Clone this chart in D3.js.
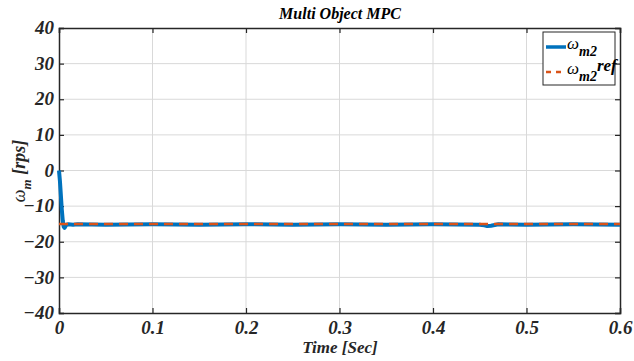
<!DOCTYPE html>
<html><head><meta charset="utf-8">
<script src="https://cdn.jsdelivr.net/npm/d3@7"></script>
<style>body{margin:0;background:#fff}svg{display:block}</style>
</head><body><svg id="c" width="634" height="361"></svg>
<script>
const xTicks=[0,0.1,0.2,0.3,0.4,0.5,0.6];
const yTicks=[-40,-30,-20,-10,0,10,20,30,40];
const timeMeas=[0,0.001,0.002,0.003,0.004,0.005,0.006,0.007,0.008,0.01,0.015,0.02,0.05,0.1,0.15,0.2,0.25,0.3,0.35,0.4,0.45,0.455,0.458,0.462,0.466,0.47,0.5,0.55,0.6];
const omegaMeas=[0,-3,-7,-11,-14,-15.8,-16.1,-15.6,-15.2,-15.1,-15.2,-15.1,-15.2,-15.1,-15.2,-15.1,-15.2,-15.1,-15.2,-15.1,-15.2,-15.4,-15.6,-15.5,-15.3,-15.1,-15.2,-15.1,-15.2];
const timeRef=[0,0.6];
const omegaRef=[-15,-15];
const legendLabels=[["ω","m2",""],["ω","m2","ref"]];

const FONT="'Liberation Serif'";
const svg=d3.select("#c");
const m={l:59,r:620,t:28,b:313};
const x=d3.scaleLinear().domain([0,0.6]).range([m.l,m.r]);
const y=d3.scaleLinear().domain([-40,40]).range([m.b,m.t]);
function ft(sel,size){return sel.attr("font-family",FONT).style("font-family",FONT).style("font-weight","bold").style("font-style","italic").style("font-size",size+"px");}

// grid
svg.append("g").selectAll("line").data(xTicks.slice(1,-1)).join("line")
 .attr("x1",d=>x(d)).attr("x2",d=>x(d)).attr("y1",m.t).attr("y2",m.b).attr("stroke","#d9d9d9").attr("stroke-width",1);
svg.append("g").selectAll("line").data(yTicks.slice(1,-1)).join("line")
 .attr("y1",d=>y(d)).attr("y2",d=>y(d)).attr("x1",m.l).attr("x2",m.r).attr("stroke","#d9d9d9").attr("stroke-width",1);

// axes
const ax=svg.append("g").attr("transform",`translate(0,${m.b})`).call(d3.axisBottom(x).tickValues(xTicks).tickSize(-5).tickPadding(5).tickFormat(d=>d===0?"0":d3.format(".1f")(d)));
const ay=svg.append("g").attr("transform",`translate(${m.l},0)`).call(d3.axisLeft(y).tickValues(yTicks).tickSize(-5).tickPadding(5));
const at=svg.append("g").attr("transform",`translate(0,${m.t})`).call(d3.axisTop(x).tickValues(xTicks).tickSize(-5).tickFormat(""));
const ar=svg.append("g").attr("transform",`translate(${m.r},0)`).call(d3.axisRight(y).tickValues(yTicks).tickSize(-5).tickFormat(""));
[ax,ay,at,ar].forEach(g=>{g.attr("font-family",FONT);g.select(".domain").attr("stroke","#262626").attr("stroke-width",1.5);g.selectAll(".tick line").attr("stroke","#262626").attr("stroke-width",1.2);
 ft(g.selectAll("text"),19).attr("fill","#262626");});
ax.selectAll("text").attr("dy","0.85em");
ay.selectAll("text").attr("dy","0.3em");

// lines
const line=d3.line().x(d=>x(d[0])).y(d=>y(d[1]));
svg.append("path").datum(timeMeas.map((t,i)=>[t,omegaMeas[i]])).attr("d",line).attr("fill","none").attr("stroke","#0072BD").attr("stroke-width",4).attr("stroke-linejoin","round");
svg.append("path").datum(timeRef.map((t,i)=>[t,omegaRef[i]])).attr("d",line).attr("fill","none").attr("stroke","#D95319").attr("stroke-width",2.5).attr("stroke-dasharray","9,6");

// title
ft(svg.append("text").attr("x",340).attr("y",19).attr("text-anchor","middle"),16).attr("fill","#000").text("Multi Object MPC");
// xlabel
ft(svg.append("text").attr("x",340).attr("y",353).attr("text-anchor","middle"),17).attr("fill","#262626").text("Time [Sec]");
// ylabel
const yl=ft(svg.append("text").attr("transform","translate(25,171) rotate(-90)").attr("text-anchor","middle"),18).attr("fill","#262626");
yl.append("tspan").style("font-weight","normal").text("ω");
yl.append("tspan").attr("dy",6).style("font-size","13px").text("m");
yl.append("tspan").attr("dy",-6).text(" [rps]");

// legend
const lg=svg.append("g");
lg.append("rect").attr("x",543).attr("y",32).attr("width",72).attr("height",53).attr("fill","#fff").attr("stroke","#262626").attr("stroke-width",1);
const colors=["#0072BD","#D95319"];
legendLabels.forEach((l,i)=>{
 const yy=47+i*25;
 lg.append("line").attr("x1",546).attr("x2",566).attr("y1",yy).attr("y2",yy).attr("stroke",colors[i]).attr("stroke-width",i?2.5:3.5).attr("stroke-dasharray",i?"5,5":null);
 const t=ft(lg.append("text").attr("x",567).attr("y",yy+2),17).attr("fill","#000");
 t.append("tspan").style("font-weight","normal").text(l[0]);
 t.append("tspan").attr("dy",7).style("font-size","14px").text(l[1]);
 if(l[2]) t.append("tspan").attr("dy",-10).style("font-size","17px").text(l[2]);
});
</script></body></html>
